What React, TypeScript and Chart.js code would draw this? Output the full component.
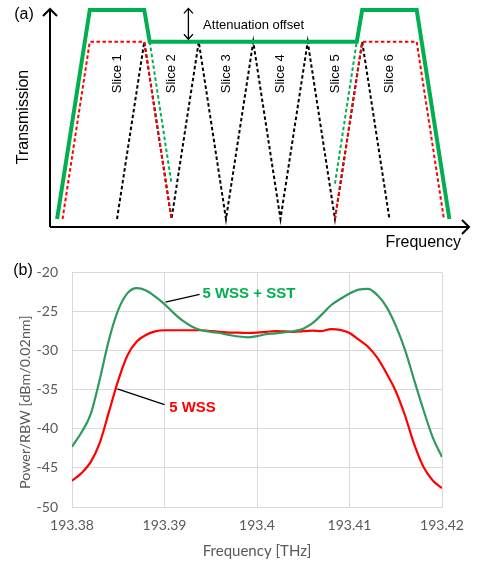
import React, { useEffect, useRef } from "react";
import { Chart, registerables } from "chart.js";
Chart.register(...registerables);

// ---------- Panel (a): schematic (arbitrary units) ----------
const TOP = 11.8;
const MID = 10;
const sliceX = [0, 10, 20, 30, 40, 50];
const sliceLabels = ["Slice 1", "Slice 2", "Slice 3", "Slice 4", "Slice 5", "Slice 6"];
const blackX = [0, 5, 10, 15, 20, 25, 30, 35, 40, 45, 50];
const blackY = [0, 10, 0, 10, 0, 10, 0, 10, 0, 10, 0];
const redLeftX = [-10, -5, 5, 10];
const redLeftY = [0, 10, 10, 0];
const redRightX = [40, 45, 55, 60];
const redRightY = [0, 10, 10, 0];
const greenSolidX = [-11, -5, 5, 6, 44, 45, 55, 61];
const greenSolidY = [0, TOP, TOP, MID, MID, TOP, TOP, 0];
const greenDashLeftX = [6, 10];
const greenDashLeftY = [10, 2];
const greenDashRightX = [40, 44];
const greenDashRightY = [2, 10];

// ---------- Panel (b): measured spectra ----------
const freqTHz = [
  193.38, 193.381, 193.382, 193.383, 193.384, 193.385, 193.386, 193.387, 193.388, 193.389,
  193.39, 193.391, 193.392, 193.393, 193.394, 193.395, 193.396, 193.397, 193.398, 193.399,
  193.4, 193.401, 193.402, 193.403, 193.404, 193.405, 193.406, 193.407, 193.408, 193.409,
  193.41, 193.411, 193.412, 193.413, 193.414, 193.415, 193.416, 193.417, 193.418, 193.419,
  193.42,
];
const wssSst = [
  -42.3, -40.5, -38.2, -33.7, -28.6, -24.8, -22.65, -22.0, -22.3, -23.1,
  -24.05, -25.2, -26.2, -26.95, -27.4, -27.6, -27.75, -28.0, -28.2, -28.3,
  -28.15, -27.9, -27.8, -27.65, -27.5, -27.2, -26.5, -25.4, -24.2, -23.4,
  -22.7, -22.2, -22.1, -22.9, -24.4, -26.8, -29.9, -33.8, -37.6, -41.1,
  -43.6,
];
const wssOnly = [
  -46.65, -45.7, -44.3, -41.8, -37.8, -33.8, -30.6, -28.85, -28.0, -27.55,
  -27.4, -27.4, -27.4, -27.4, -27.4, -27.5, -27.6, -27.7, -27.7, -27.75,
  -27.7, -27.6, -27.5, -27.55, -27.6, -27.5, -27.45, -27.5, -27.25, -27.35,
  -27.75, -28.6, -29.5, -30.9, -32.9, -35.2, -38.3, -42.0, -44.9, -46.6,
  -47.6,
];
const xTicks = [193.38, 193.39, 193.4, 193.41, 193.42];
const yTicks = [-50, -45, -40, -35, -30, -25, -20];

const pts = (xs: number[], ys: number[]) => xs.map((x, i) => ({ x, y: ys[i] }));

const ARIAL = "'Liberation Sans', Arial, sans-serif";
const CAL = "Lato, 'Open Sans', sans-serif";
const GREEN_A = "#00b050";
const RED = "#ff0000";

const panelAPlugin = {
  id: "panelA",
  afterDraw(chart: any) {
    const { ctx, chartArea: ca, scales } = chart;
    const xs = scales.x;
    const ys = scales.y;
    ctx.save();
    ctx.strokeStyle = "#000";
    ctx.lineWidth = 2;
    ctx.beginPath();
    ctx.moveTo(ca.left, ca.bottom);
    ctx.lineTo(ca.left, ca.top);
    ctx.moveTo(ca.left, ca.bottom);
    ctx.lineTo(ca.right, ca.bottom);
    ctx.stroke();
    ctx.beginPath();
    ctx.moveTo(ca.left - 7, ca.top + 7);
    ctx.lineTo(ca.left, ca.top);
    ctx.lineTo(ca.left + 7, ca.top + 7);
    ctx.moveTo(ca.right - 7, ca.bottom - 7);
    ctx.lineTo(ca.right, ca.bottom);
    ctx.lineTo(ca.right - 7, ca.bottom + 7);
    ctx.stroke();

    const ax = xs.getPixelForValue(13.1);
    const aTop = ys.getPixelForValue(TOP) - 1.5;
    const aBot = ys.getPixelForValue(MID) - 2.5;
    ctx.lineWidth = 1.3;
    ctx.beginPath();
    ctx.moveTo(ax, aTop);
    ctx.lineTo(ax, aBot);
    ctx.moveTo(ax - 4.5, aTop + 5);
    ctx.lineTo(ax, aTop);
    ctx.lineTo(ax + 4.5, aTop + 5);
    ctx.moveTo(ax - 4.5, aBot - 5);
    ctx.lineTo(ax, aBot);
    ctx.lineTo(ax + 4.5, aBot - 5);
    ctx.stroke();

    ctx.fillStyle = "#000";
    ctx.textBaseline = "middle";
    ctx.font = `13px ${ARIAL}`;
    ctx.textAlign = "left";
    ctx.fillText("Attenuation offset", xs.getPixelForValue(15.8), ys.getPixelForValue(10.95));

    ctx.textAlign = "center";
    sliceX.forEach((sx, i) => {
      ctx.save();
      ctx.translate(xs.getPixelForValue(sx), ys.getPixelForValue(8.2));
      ctx.rotate(-Math.PI / 2);
      ctx.fillText(sliceLabels[i], 0, 0);
      ctx.restore();
    });

    ctx.font = `16px ${ARIAL}`;
    ctx.fillText("(a)", 24, 15);
    ctx.textAlign = "right";
    ctx.fillText("Frequency", ca.right - 8, ca.bottom + 16);
    ctx.textAlign = "center";
    ctx.save();
    ctx.translate(24, 117);
    ctx.rotate(-Math.PI / 2);
    ctx.fillText("Transmission", 0, 0);
    ctx.restore();
    ctx.restore();
  },
};

const labelsB = [
  { text: "5 WSS + SST", color: GREEN_A, x: 193.3941, y: -22.8, from: [193.3901, -23.8], to: [193.3938, -22.8] },
  { text: "5 WSS", color: RED, x: 193.3905, y: -37.3, from: [193.3849, -34.9], to: [193.39, -36.9] },
];

const panelBPlugin = {
  id: "panelB",
  afterDraw(chart: any) {
    const { ctx, scales } = chart;
    const xs = scales.x;
    const ys = scales.y;
    ctx.save();
    labelsB.forEach((l) => {
      ctx.strokeStyle = "#000";
      ctx.lineWidth = 1.2;
      ctx.beginPath();
      ctx.moveTo(xs.getPixelForValue(l.from[0]), ys.getPixelForValue(l.from[1]));
      ctx.lineTo(xs.getPixelForValue(l.to[0]), ys.getPixelForValue(l.to[1]));
      ctx.stroke();
      ctx.fillStyle = l.color;
      ctx.font = `bold 15px ${ARIAL}`;
      ctx.textAlign = "left";
      ctx.textBaseline = "middle";
      ctx.fillText(l.text, xs.getPixelForValue(l.x), ys.getPixelForValue(l.y));
    });
    ctx.fillStyle = "#000";
    ctx.font = `16px ${ARIAL}`;
    ctx.textAlign = "center";
    ctx.fillText("(b)", 23, 21);
    // y-axis title (sits slightly below the plot centre in the original)
    ctx.fillStyle = "#595959";
    ctx.font = `14.3px ${CAL}`;
    ctx.save();
    ctx.translate(25, ys.getPixelForValue(-36.6));
    ctx.rotate(-Math.PI / 2);
    ctx.fillText("Power/RBW [dBm/0.02nm]", 0, 0);
    ctx.restore();
    ctx.restore();
  },
};

export default function App() {
  const refA = useRef<HTMLCanvasElement>(null);
  const refB = useRef<HTMLCanvasElement>(null);

  useEffect(() => {
    const lineDs = (label: string, data: any, color: string, width: number, dash: number[], order: number) => ({
      label,
      data,
      borderColor: color,
      borderWidth: width,
      borderDash: dash,
      pointRadius: 0,
      tension: 0,
      clip: false,
      order,
      borderJoinStyle: "miter",
      borderCapStyle: "butt",
    });
    const chartA = new Chart(refA.current!, {
      type: "line",
      data: {
        datasets: [
          lineDs("slices", pts(blackX, blackY), "#000", 2, [3.5, 2.5], 4),
          lineDs("redL", pts(redLeftX, redLeftY), RED, 2, [3.5, 2.5], 3),
          lineDs("redR", pts(redRightX, redRightY), RED, 2, [3.5, 2.5], 3),
          lineDs("greenDL", pts(greenDashLeftX, greenDashLeftY), GREEN_A, 2, [3.5, 2.5], 2),
          lineDs("greenDR", pts(greenDashRightX, greenDashRightY), GREEN_A, 2, [3.5, 2.5], 2),
          lineDs("green", pts(greenSolidX, greenSolidY), GREEN_A, 4, [], 0),
        ] as any,
      },
      options: {
        animation: false,
        responsive: false,
        devicePixelRatio: 1,
        layout: { padding: { left: 50, right: 8, top: 9, bottom: 23 } },
        plugins: { legend: { display: false }, tooltip: { enabled: false } },
        scales: {
          x: { type: "linear", min: -12.3, max: 64.6, display: false },
          y: { type: "linear", min: -0.45, max: 11.85, display: false },
        },
      } as any,
      plugins: [panelAPlugin],
    });

    const tickFont = { family: CAL, size: 14 };
    const chartB = new Chart(refB.current!, {
      type: "line",
      data: {
        datasets: [
          {
            label: "5 WSS + SST",
            data: pts(freqTHz, wssSst),
            borderColor: "#2f9a5e",
            borderWidth: 2.2,
            pointRadius: 0,
            cubicInterpolationMode: "monotone",
          },
          {
            label: "5 WSS",
            data: pts(freqTHz, wssOnly),
            borderColor: RED,
            borderWidth: 2.2,
            pointRadius: 0,
            cubicInterpolationMode: "monotone",
          },
        ] as any,
      },
      options: {
        animation: false,
        responsive: false,
        devicePixelRatio: 1,
        layout: { padding: { left: 0, right: 35, top: 20, bottom: 0 } },
        plugins: { legend: { display: false }, tooltip: { enabled: false } },
        scales: {
          x: {
            type: "linear",
            min: 193.38,
            max: 193.42,
            afterBuildTicks: (s: any) => {
              s.ticks = xTicks.map((v) => ({ value: v }));
            },
            afterFit: (s: any) => {
              s.height = 54;
            },
            ticks: {
              callback: (v: any) => String(parseFloat(Number(v).toFixed(2))),
              color: "#595959",
              font: tickFont,
              padding: 10,
              maxRotation: 0,
              autoSkip: false,
            },
            grid: { color: "#d9d9d9", drawTicks: false },
            border: { color: "#d9d9d9" },
            title: {
              display: true,
              text: "Frequency [THz]",
              color: "#595959",
              font: { family: CAL, size: 15 },
              padding: { top: 0, bottom: 1 },
            },
          },
          y: {
            type: "linear",
            min: -50,
            max: -20,
            afterBuildTicks: (s: any) => {
              s.ticks = yTicks.map((v) => ({ value: v }));
            },
            afterFit: (s: any) => {
              s.width = 72;
            },
            ticks: { color: "#595959", font: tickFont, padding: 14 },
            grid: { color: "#d9d9d9", drawTicks: false },
            border: { color: "#d9d9d9" },
            title: { display: false },
          },
        },
      } as any,
      plugins: [panelBPlugin],
    });

    return () => {
      chartA.destroy();
      chartB.destroy();
    };
  }, []);

  return (
    <div style={{ position: "absolute", left: 0, top: 0, width: 477, height: 561, background: "#fff" }}>
      <canvas ref={refA} width={477} height={250} style={{ display: "block", width: 477, height: 250 }} />
      <canvas ref={refB} width={477} height={311} style={{ display: "block", width: 477, height: 311 }} />
    </div>
  );
}
